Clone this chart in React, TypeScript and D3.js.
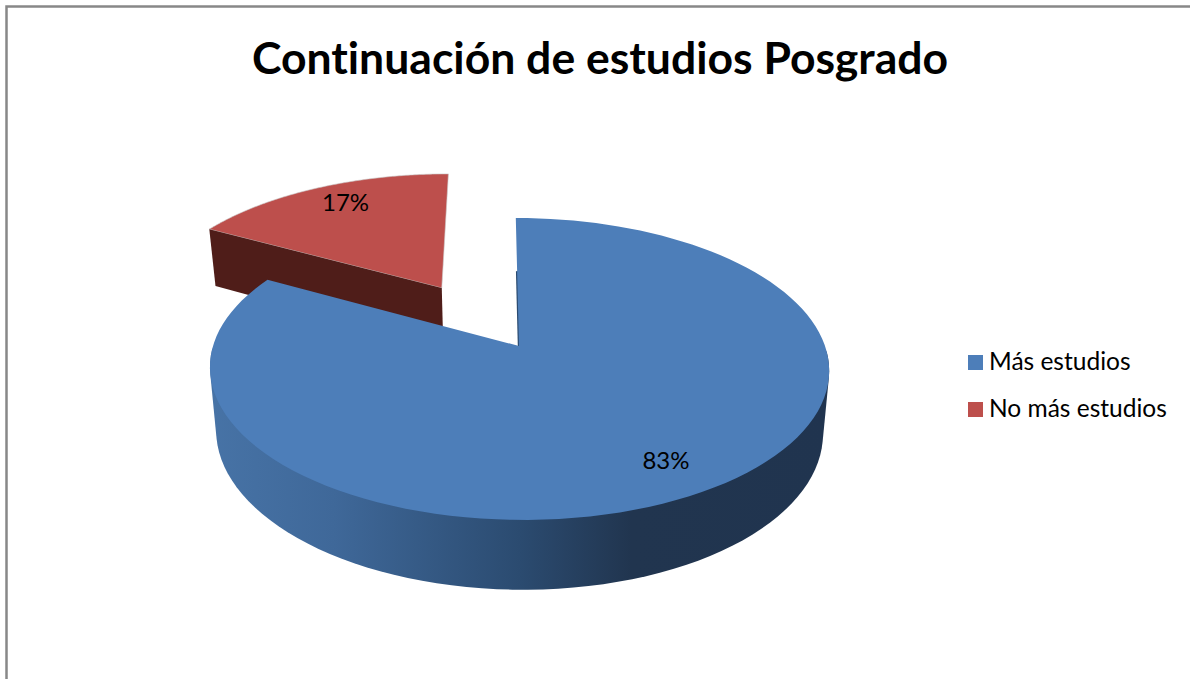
import React from 'react';
import * as d3 from 'd3';

const categories = ['Más estudios', 'No más estudios'];
const shares = [83, 17];
const chartTitle = 'Continuación de estudios Posgrado';

const W = 1190;
const H = 679;
const FONT = 'Lato, "Open Sans", sans-serif';
const TOP_COLORS = ['#4d7eb9', '#bd4f4c'];

// fake 3D camera, tuned against the picture
const cx = 519;
const cy = 346;
const rx = 306;
const ry = 147.5;
const persp = 0.152;
const lean = 0.025;
const bottomCy = 408;
const bottomX = 0.98;
const bottomY = 1.045;
const explode = [0, 0.486];
const nudgeU = [0, -0.016];
const labelDx = [1, 8];

type Pt = [number, number];

// u goes right, v goes toward the viewer, both in pie radii
const top = (u: number, v: number): Pt => {
  const s = 1 / (1 - persp * v);
  const y = cy + ry * v * s;
  return [cx + rx * u * s + (y - cy) * lean, y];
};

const bottom = (u: number, v: number): Pt => {
  const [x, y] = top(u, v);
  return [cx + (x - cx) * bottomX, bottomCy + (y - cy) * bottomY];
};

const pie = d3.pie<number>().sort(null).value(d => d)(shares);
const line = d3.line<Pt>();

const dir = (a: number): Pt => [Math.sin(a), -Math.cos(a)];

const App = () => {
  const slices = pie.map((s, i) => {
    const mid = (s.startAngle + s.endAngle) / 2;
    const [mu, mv] = dir(mid);
    const ox = mu * explode[i] + nudgeU[i];
    const oy = mv * explode[i];
    const steps = d3.range(0, 121).map(k => s.startAngle + ((s.endAngle - s.startAngle) * k) / 120);
    const rim = steps.map(a => dir(a)).map(([u, v]) => [u + ox, v + oy] as Pt);
    // only the front half of the rim shows, the hull gives the straight silhouette at both ends
    const front = steps.filter(a => a >= Math.PI / 2 && a <= (3 * Math.PI) / 2).map(a => dir(a));
    const hull = d3.polygonHull([...front.map(([u, v]) => top(u, v)), ...front.map(([u, v]) => bottom(u, v))]);
    return {
      i,
      mid,
      ox,
      oy,
      topPts: [[ox, oy] as Pt, ...rim].map(([u, v]) => top(u, v)),
      sidePts: hull as Pt[],
      rim,
    };
  });

  const blue = slices[0];
  const red = slices[1];
  const redEdge = red.rim[0];
  const redCut: Pt[] = [
    top(red.ox, red.oy),
    top(redEdge[0], redEdge[1]),
    bottom(redEdge[0], redEdge[1]),
    bottom(red.ox, red.oy),
  ];
  const blueStart = blue.rim[0];

  const labelAt = (s: (typeof slices)[number]) => {
    const [u, v] = dir(s.mid);
    return top(u * 0.82 + s.ox, v * 0.82 + s.oy);
  };

  return (
    <svg width={W} height={H} viewBox={`0 0 ${W} ${H}`} style={{ position: 'absolute', left: 0, top: 0, background: '#fff', fontVariantLigatures: 'none' }}>
      <defs>
        <linearGradient id="blueSide" gradientUnits="userSpaceOnUse" x1={210} x2={830} y1={0} y2={0}>
          <stop offset="0" stopColor="#4773a6" />
          <stop offset="0.2" stopColor="#3f6899" />
          <stop offset="0.5" stopColor="#2b4b70" />
          <stop offset="0.68" stopColor="#21354f" />
          <stop offset="1" stopColor="#20344f" />
        </linearGradient>
      </defs>

      <path d={`M6.5,${H}V6.5H${W}`} fill="none" stroke="#888888" strokeWidth={2.5} />

      <text x={600} y={74} textAnchor="middle" fontFamily={FONT} fontWeight={700} fontSize={44.5} fill="#000">
        {chartTitle}
      </text>

      {/* red slice first, the big one sits in front of it */}
      <path d={line(red.topPts) + 'Z'} fill={TOP_COLORS[1]} stroke="#c9c9c9" strokeWidth={0.6} />
      <path d={line(redCut) + 'Z'} fill="#4f1d19" />

      <path d={line(blue.sidePts) + 'Z'} fill="url(#blueSide)" />
      <path d={line([top(blueStart[0] * 0.55, blueStart[1] * 0.55), top(0, 0)])!} stroke="#2b4b70" strokeWidth={2.4} fill="none" />
      <path d={line(blue.topPts) + 'Z'} fill={TOP_COLORS[0]} />

      {slices.map(s => {
        const [x, y] = labelAt(s);
        return (
          <text key={s.i} x={x + labelDx[s.i]} y={y - 2} dy="0.35em" textAnchor="middle" fontFamily={FONT} fontSize={24} fill="#000">
            {shares[s.i]}%
          </text>
        );
      })}

      {categories.map((c, i) => (
        <g key={c} transform={`translate(968,${355 + i * 47})`}>
          <rect width={15} height={15} fill={TOP_COLORS[i]} />
          <text x={21} y={15} fontFamily={FONT} fontSize={24.5} fill="#000">
            {c}
          </text>
        </g>
      ))}
    </svg>
  );
};

export default App;
